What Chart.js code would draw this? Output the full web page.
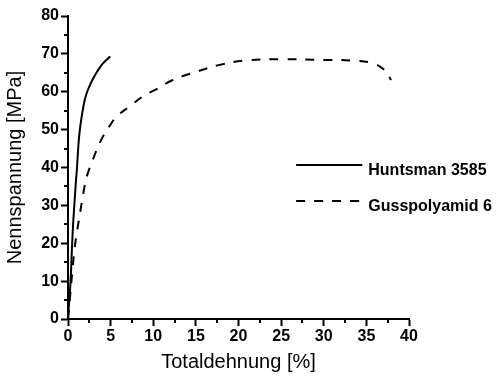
<!DOCTYPE html>
<html><head><meta charset="utf-8">
<script src="https://cdn.jsdelivr.net/npm/chart.js@4/dist/chart.umd.min.js"></script>
<style>html,body{margin:0;padding:0;background:#fff}#wrap{width:497px;height:378px}</style>
</head><body><div id="wrap"><canvas id="c" width="497" height="378"></canvas></div>
<script>
const seriesNames = ['Huntsman 3585', 'Gusspolyamid 6'];
const huntsmanX = [0, 0.15, 0.3, 0.45, 0.6, 0.8, 0.95, 1.04, 1.15, 1.27, 1.4, 1.55, 1.75, 1.97, 2.25, 2.6, 3.0, 3.5, 4.1, 4.96];
const huntsmanY = [0, 5, 10, 18, 25, 32, 37, 39.4, 43.5, 47.3, 50.2, 52.6, 55.4, 57.9, 60.0, 61.9, 63.7, 65.6, 67.5, 69.3];
const gussX = [0, 0.25, 0.49, 0.76, 1.04, 1.35, 1.67, 1.94, 2.2, 2.9, 3.9, 5.1, 5.7, 7.2, 8.8, 10.4, 12.3, 15.1, 17.8, 21, 25, 30, 33.7, 35.8, 37.2, 37.9];
const gussY = [0, 6, 12.2, 18.3, 22.8, 27.1, 31.5, 35, 37.6, 42, 47.3, 51.7, 53.5, 56.1, 58.8, 60.7, 63.1, 65.3, 67.1, 68.3, 68.6, 68.4, 68.2, 67.5, 65.6, 63.1];
const xTicks = [0, 5, 10, 15, 20, 25, 30, 35, 40];
const yTicks = [0, 10, 20, 30, 40, 50, 60, 70, 80];
const xTitle = 'Totaldehnung [%]';
const yTitle = 'Nennspannung [MPa]';

Chart.defaults.font.family = '"Liberation Sans", Arial, sans-serif';
Chart.defaults.color = '#000';

const toPts = (xs, ys) => xs.map((x, i) => ({x: x, y: ys[i]}));

const minorTicks = {
  id: 'minorTicks',
  afterDraw(chart) {
    const ctx = chart.ctx;
    const xs = chart.scales.x, ys = chart.scales.y;
    ctx.save();
    ctx.strokeStyle = '#000';
    ctx.lineWidth = 2;
    ctx.beginPath();
    for (let i = 0; i < xTicks.length - 1; i++) {
      const px = Math.round(xs.getPixelForValue((xTicks[i] + xTicks[i + 1]) / 2));
      ctx.moveTo(px, xs.top); ctx.lineTo(px, xs.top + 4);
    }
    for (let i = 0; i < yTicks.length - 1; i++) {
      const py = Math.round(ys.getPixelForValue((yTicks[i] + yTicks[i + 1]) / 2));
      ctx.moveTo(ys.right, py); ctx.lineTo(ys.right - 4, py);
    }
    ctx.stroke();
    ctx.restore();
  }
};

const customLegend = {
  id: 'customLegend',
  afterDraw(chart) {
    const ctx = chart.ctx;
    const a = chart.chartArea;
    const w = a.right - a.left, h = a.bottom - a.top;
    const x0 = a.left + w * 0.669, x1 = a.left + w * 0.863;
    const rows = [a.top + h * 0.491, a.top + h * 0.609];
    ctx.save();
    chart.data.datasets.forEach((ds, i) => {
      const y = Math.round(rows[i]);
      ctx.strokeStyle = '#000';
      ctx.lineWidth = 2;
      ctx.setLineDash(ds.borderDash || []);
      ctx.beginPath();
      ctx.moveTo(x0, y); ctx.lineTo(x1, y);
      ctx.stroke();
      ctx.setLineDash([]);
      ctx.fillStyle = '#000';
      ctx.font = 'bold 16px "Liberation Sans", Arial, sans-serif';
      ctx.textBaseline = 'alphabetic';
      ctx.fillText(ds.label, x1 + 6, y + 10);
    });
    ctx.restore();
  }
};

new Chart(document.getElementById('c'), {
  type: 'line',
  data: {
    datasets: [
      {label: seriesNames[0], data: toPts(huntsmanX, huntsmanY), borderColor: '#000', borderWidth: 2, pointRadius: 0, tension: 0.4, fill: false},
      {label: seriesNames[1], data: toPts(gussX, gussY), borderColor: '#000', borderWidth: 2, borderDash: [9, 9], pointRadius: 0, tension: 0.4, fill: false}
    ]
  },
  options: {
    responsive: false,
    animation: false,
    layout: {padding: {top: 16, right: 88, left: 0, bottom: 0}},
    plugins: {legend: {display: false}, tooltip: {enabled: false}},
    scales: {
      x: {
        type: 'linear', min: 0, max: 40,
        afterBuildTicks: s => { s.ticks = xTicks.map(v => ({value: v})); },
        afterFit: s => { s.height = 59; },
        border: {display: true, color: '#000', width: 2},
        grid: {display: true, drawOnChartArea: false, drawTicks: true, tickLength: 7, tickWidth: 2, tickColor: '#000'},
        ticks: {font: {size: 16, weight: 'bold'}, padding: 1, maxRotation: 0, autoSkip: false},
        title: {display: true, text: xTitle, font: {size: 20}, padding: {top: 0, bottom: 4}}
      },
      y: {
        type: 'linear', min: 0, max: 80,
        afterBuildTicks: s => { s.ticks = yTicks.map(v => ({value: v})); },
        afterFit: s => { s.width = 68; },
        border: {display: true, color: '#000', width: 2},
        grid: {display: true, drawOnChartArea: false, drawTicks: true, tickLength: 7, tickWidth: 2, tickColor: '#000'},
        ticks: {font: {size: 16, weight: 'bold'}, padding: 2, autoSkip: false},
        title: {display: true, text: yTitle, font: {size: 20}, padding: {top: 3, bottom: 0}}
      }
    }
  },
  plugins: [minorTicks, customLegend]
});
</script></body></html>
